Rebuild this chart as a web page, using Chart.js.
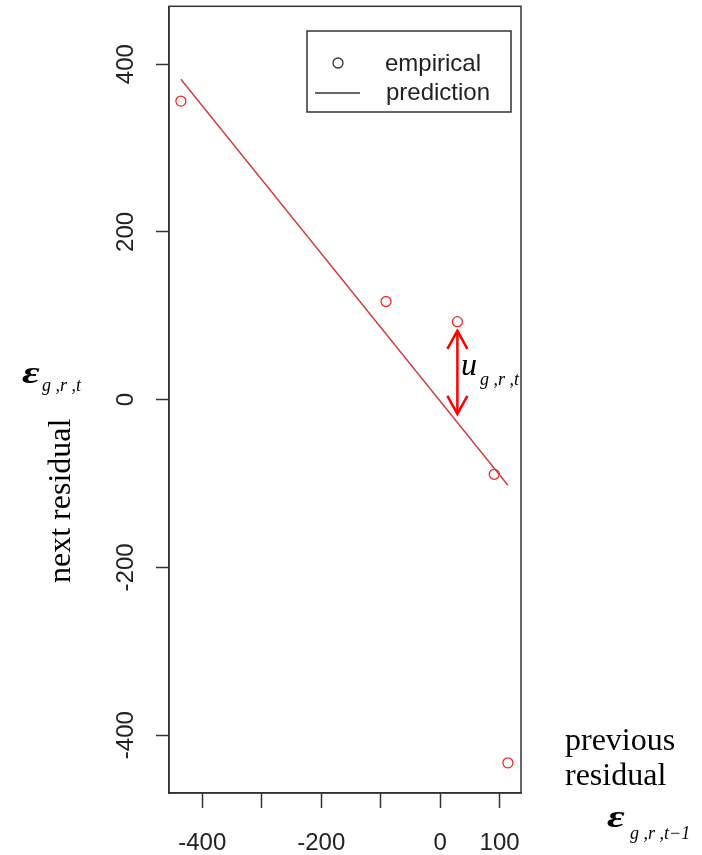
<!DOCTYPE html>
<html><head><meta charset="utf-8">
<script src="https://cdn.jsdelivr.net/npm/chart.js@4/dist/chart.umd.min.js"></script>
<style>html,body{margin:0;padding:0;background:#fff;}canvas{display:block;}</style>
</head><body>
<canvas id="c" width="702" height="855"></canvas>
<script>
// ---- data ----
const prevResidual = [-436, -91, 29, 91, 114];
const nextResidual = [356, 117, 93, -89, -433];
const predictionX = [-436, 114];
const predictionY = [382, -102];
const xTicks = [-400, -300, -200, -100, 0, 100];
const xTickLabels = ['-400', '', '-200', '', '0', '100'];
const yTicks = [-400, -200, 0, 200, 400];
const yTickLabels = ['-400', '-200', '0', '200', '400'];
const arrowX = [29];
const arrowFromTo = [82, -17];
const legendLabels = ['empirical', 'prediction'];

const empirical = prevResidual.map((x, i) => ({x, y: nextResidual[i]}));
const prediction = predictionX.map((x, i) => ({x, y: predictionY[i]}));

const AXIS = '#333';
const SANS = '"Liberation Sans", Arial, sans-serif';
const SERIF = '"Liberation Serif", "Times New Roman", serif';

function epsilon(ctx, x, y) {
  ctx.save();
  ctx.translate(x, y);
  ctx.scale(1.35, 1);
  ctx.font = 'bold italic 32px ' + SERIF;
  ctx.fillText('\u03B5', 0, 0);
  ctx.restore();
}

const overlay = {
  id: 'overlay',
  afterDraw(chart) {
    const ctx = chart.ctx;
    const ca = chart.chartArea;
    const xs = chart.scales.x, ys = chart.scales.y;
    ctx.save();
    // plot box
    ctx.strokeStyle = AXIS; ctx.lineWidth = 1.5;
    ctx.strokeRect(ca.left, ca.top, ca.right - ca.left, ca.bottom - ca.top);

    // y tick labels (rotated, R style)
    ctx.fillStyle = '#222';
    ctx.font = '24px ' + SANS;
    ctx.textAlign = 'center'; ctx.textBaseline = 'alphabetic';
    yTicks.forEach((v, i) => {
      const py = ys.getPixelForValue(v);
      ctx.save();
      ctx.translate(133, py);
      ctx.rotate(-Math.PI / 2);
      ctx.fillText(yTickLabels[i], 0, 0);
      ctx.restore();
    });

    // legend
    const lx = 307, ly = 31, lw = 204, lh = 81;
    ctx.strokeStyle = AXIS; ctx.lineWidth = 1.5;
    ctx.strokeRect(lx, ly, lw, lh);
    ctx.lineWidth = 1.3;
    ctx.beginPath(); ctx.arc(338, 63, 5, 0, Math.PI * 2); ctx.stroke();
    ctx.beginPath(); ctx.moveTo(315, 93); ctx.lineTo(360, 93); ctx.stroke();
    ctx.fillStyle = '#222'; ctx.textAlign = 'left';
    ctx.font = '24px ' + SANS;
    ctx.fillText(legendLabels[0], 385, 71);
    ctx.fillText(legendLabels[1], 386, 100);

    // red double arrow
    const ax = xs.getPixelForValue(arrowX[0]);
    const a1 = ys.getPixelForValue(arrowFromTo[0]);
    const a2 = ys.getPixelForValue(arrowFromTo[1]);
    ctx.strokeStyle = '#ff0000'; ctx.lineWidth = 2.5;
    ctx.beginPath(); ctx.moveTo(ax, a1); ctx.lineTo(ax, a2); ctx.stroke();
    ctx.beginPath();
    ctx.moveTo(ax - 10, a1 + 18); ctx.lineTo(ax, a1); ctx.lineTo(ax + 10, a1 + 18);
    ctx.moveTo(ax - 10, a2 - 18); ctx.lineTo(ax, a2); ctx.lineTo(ax + 10, a2 - 18);
    ctx.stroke();

    // math labels
    ctx.fillStyle = '#000';
    ctx.textAlign = 'left';
    ctx.font = 'italic 32px ' + SERIF;
    ctx.fillText('u', 461, 375);
    ctx.font = 'italic 18px ' + SERIF;
    ctx.fillText('g ,r ,t', 480, 385);

    epsilon(ctx, 22, 383);
    ctx.font = 'italic 18px ' + SERIF;
    ctx.fillText('g ,r ,t', 42, 391);

    epsilon(ctx, 607, 827);
    ctx.font = 'italic 18px ' + SERIF;
    ctx.fillText('g ,r ,t\u22121', 630, 839);

    ctx.font = '32px ' + SERIF;
    ctx.fillText('previous', 565, 750);
    ctx.fillText('residual', 565, 785);

    ctx.save();
    ctx.translate(70, 583);
    ctx.rotate(-Math.PI / 2);
    ctx.fillText('next residual', 0, 0);
    ctx.restore();

    ctx.restore();
  }
};

new Chart(document.getElementById('c'), {
  type: 'scatter',
  data: {
    datasets: [
      {
        label: legendLabels[0], data: empirical,
        pointStyle: 'circle', pointRadius: 5, pointHoverRadius: 5,
        pointBorderWidth: 1.3, borderColor: '#ee2a2a', backgroundColor: 'rgba(0,0,0,0)',
        showLine: false, order: 1
      },
      {
        label: legendLabels[1], data: prediction, showLine: true,
        borderColor: '#d03a3a', borderWidth: 1.4, pointRadius: 0, fill: false, order: 2
      }
    ]
  },
  options: {
    responsive: false, animation: false,
    layout: {padding: {top: 5, right: 181, left: 0, bottom: 0}},
    plugins: {legend: {display: false}, tooltip: {enabled: false}},
    scales: {
      x: {
        type: 'linear', min: -456, max: 136,
        afterBuildTicks: s => { s.ticks = xTicks.map(v => ({value: v})); },
        afterFit: s => { s.height = 62; },
        grid: {drawOnChartArea: false, drawTicks: true, tickLength: 15, tickColor: AXIS, tickWidth: 1.5},
        border: {display: true, color: AXIS, width: 1.5},
        ticks: {
          autoSkip: false, maxRotation: 0, minRotation: 0, padding: 21,
          color: '#222', font: {family: SANS, size: 24},
          callback: (v, i) => xTickLabels[i]
        }
      },
      y: {
        type: 'linear', min: -469, max: 469,
        afterBuildTicks: s => { s.ticks = yTicks.map(v => ({value: v})); },
        afterFit: s => { s.width = 169; },
        grid: {drawOnChartArea: false, drawTicks: true, tickLength: 13, tickColor: AXIS, tickWidth: 1.5},
        border: {display: true, color: AXIS, width: 1.5},
        ticks: {display: false}
      }
    }
  },
  plugins: [overlay]
});
</script>
</body></html>
